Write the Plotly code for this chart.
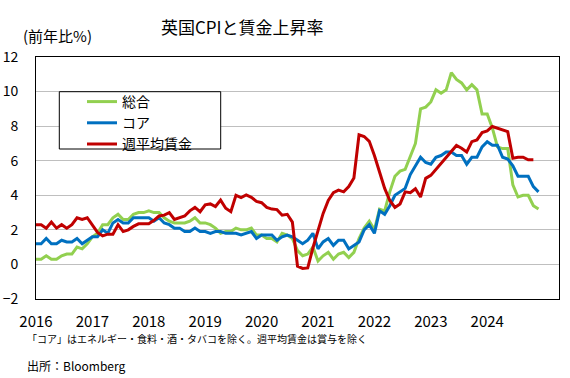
import plotly.graph_objects as go

# ---- data (monthly, Jan 2016 onward) ----
years = ["2016", "2017", "2018", "2019", "2020", "2021", "2022", "2023", "2024"]

cpi = [0.3, 0.3, 0.5, 0.3, 0.3, 0.5, 0.6, 0.6, 1.0, 0.9, 1.2, 1.6,
       1.8, 2.3, 2.3, 2.7, 2.9, 2.6, 2.6, 2.9, 3.0, 3.0, 3.1, 3.0,
       3.0, 2.7, 2.5, 2.4, 2.4, 2.4, 2.5, 2.7, 2.4, 2.4, 2.3, 2.1,
       1.8, 1.9, 1.9, 2.1, 2.0, 2.0, 2.1, 1.7, 1.7, 1.5, 1.5, 1.3,
       1.8, 1.7, 1.5, 0.8, 0.5, 0.6, 1.0, 0.2, 0.5, 0.7, 0.3, 0.6,
       0.7, 0.4, 0.7, 1.5, 2.1, 2.5, 2.0, 3.2, 3.1, 4.2, 5.1, 5.4,
       5.5, 6.2, 7.0, 9.0, 9.1, 9.4, 10.1, 9.9, 10.1, 11.1, 10.7, 10.5,
       10.1, 10.4, 10.1, 8.7, 8.7, 7.9, 6.8, 6.7, 6.7, 4.6, 3.9, 4.0,
       4.0, 3.4, 3.2]

core = [1.2, 1.2, 1.5, 1.2, 1.2, 1.4, 1.3, 1.3, 1.5, 1.2, 1.4, 1.6,
        1.6, 2.0, 1.8, 2.4, 2.6, 2.4, 2.4, 2.7, 2.7, 2.7, 2.7, 2.5,
        2.7, 2.4, 2.3, 2.1, 2.1, 1.9, 1.9, 2.1, 1.9, 1.9, 1.8, 1.9,
        1.9, 1.8, 1.8, 1.8, 1.7, 1.8, 1.9, 1.5, 1.7, 1.7, 1.7, 1.4,
        1.6, 1.7, 1.6, 1.4, 1.2, 1.4, 1.8, 0.9, 1.3, 1.5, 1.1, 1.4,
        1.4, 0.9, 1.1, 1.3, 2.0, 2.3, 1.8, 3.1, 2.9, 3.4, 4.0, 4.2,
        4.4, 5.2, 5.7, 6.2, 5.9, 5.8, 6.2, 6.3, 6.5, 6.5, 6.3, 6.3,
        5.8, 6.2, 6.2, 6.8, 7.1, 6.9, 6.9, 6.2, 6.1, 5.7, 5.1, 5.1,
        5.1, 4.5, 4.2]

wage = [2.3, 2.3, 2.1, 2.45, 2.1, 2.3, 2.1, 2.3, 2.7, 2.6, 2.7, 2.3,
        1.85, 1.65, 1.75, 1.75, 2.3, 1.9, 2.0, 2.2, 2.35, 2.35, 2.35, 2.55,
        2.8, 2.85, 3.0, 2.6, 2.7, 2.8, 3.1, 3.3, 3.05, 3.45, 3.5, 3.35,
        3.72, 3.25, 3.05, 4.0, 3.87, 4.02, 3.88, 3.65, 3.57, 3.3, 3.2, 3.17,
        2.85, 2.9, 2.45, -0.1, -0.23, -0.2, 0.95, 2.0, 2.95, 3.7, 4.15, 4.3,
        4.2, 4.5, 5.0, 7.5, 7.4, 7.12, 6.3, 5.35, 4.4, 3.7, 3.3, 3.5,
        4.2, 4.15, 4.38, 3.9, 4.98, 5.15, 5.5, 5.85, 6.14, 6.55, 6.88, 6.72,
        6.5, 7.1, 7.2, 7.63, 7.72, 7.98, 7.88, 7.8, 7.68, 6.14, 6.2, 6.2,
        6.05, 6.05]

names = ["総合", "コア", "週平均賃金"]
colors = ["#92D050", "#0070C0", "#C00000"]

# ---- geometry helpers ----
W, H = 570, 378
ML, MR, MT, MB = 36, 11, 57, 79
PW, PH = W - ML - MR, H - MT - MB
XR = [0.0, 102.0]
YR = [-2, 12]


def px_x(p):
    return (p - ML) / PW


def px_y(p):
    return (H - MB - p) / PH


year_ticks = [12 * (i + 1) for i in range(len(years) - 1)]
label_pos = [11 * i for i in range(len(years))]
FONT = "Noto Sans CJK JP, Noto Sans, sans-serif"

fig = go.Figure()
for vals, nm, col in zip([cpi, core, wage], names, colors):
    fig.add_trace(go.Scatter(
        x=list(range(len(vals))), y=vals, name=nm, mode="lines",
        line=dict(color=col, width=3), hoverinfo="skip"))

zero_pos = (0 - YR[0]) / (YR[1] - YR[0])

fig.update_layout(
    width=W, height=H,
    margin=dict(l=ML, r=MR, t=MT, b=MB, autoexpand=False),
    paper_bgcolor="white", plot_bgcolor="white",
    font=dict(family=FONT, color="black"),
    showlegend=True,
    legend=dict(x=px_x(82), y=px_y(86), xanchor="left", yanchor="top",
                bgcolor="rgba(0,0,0,0)", borderwidth=0,
                font=dict(size=14, family=FONT)),
    xaxis=dict(range=XR, tickvals=label_pos, ticktext=years, ticks="",
               showgrid=False, zeroline=False, showline=True,
               linecolor="black", linewidth=1, mirror=True, automargin=False,
               tickfont=dict(size=15), ticklabelstandoff=9),
    xaxis2=dict(overlaying="x", anchor="free", position=zero_pos, range=XR,
                tickvals=year_ticks, ticks="outside", ticklen=6,
                tickcolor="black", tickwidth=1, showticklabels=False,
                showgrid=False, zeroline=False, showline=True, automargin=False,
                linecolor="black", linewidth=1, layer="below traces"),
    xaxis3=dict(overlaying="x", anchor="free", position=zero_pos, range=XR,
                tickvals=year_ticks, ticks="inside", ticklen=5,
                tickcolor="black", tickwidth=1, showticklabels=False,
                showgrid=False, zeroline=False, showline=False, automargin=False,
                layer="below traces"),
    yaxis=dict(range=YR, dtick=2, tick0=0, showgrid=True,
               gridcolor="#BFBFBF", gridwidth=1, zeroline=False,
               showline=True, linecolor="black", linewidth=1, mirror=True,
               automargin=False,
               ticks="", tickfont=dict(size=14), ticklabelstandoff=14),
    shapes=[dict(type="rect", xref="paper", yref="paper",
                 x0=px_x(59.3), x1=px_x(220.7), y0=px_y(149), y1=px_y(91.7),
                 line=dict(color="black", width=1), fillcolor="white",
                 layer="above")],
    annotations=[
        dict(text="英国CPIと賃金上昇率", xref="paper", yref="paper",
             x=px_x(242), y=px_y(27), xanchor="center", yanchor="middle",
             showarrow=False, font=dict(size=17)),
        dict(text="(前年比%)", xref="paper", yref="paper",
             x=px_x(57.5), y=px_y(36), xanchor="center", yanchor="middle",
             showarrow=False, font=dict(size=15)),
        dict(text="「コア」はエネルギー・食料・酒・タバコを除く。週平均賃金は賞与を除く",
             xref="paper", yref="paper", x=px_x(25), y=px_y(338),
             xanchor="left", yanchor="middle", showarrow=False,
             font=dict(size=10)),
        dict(text="出所：Bloomberg", xref="paper", yref="paper",
             x=px_x(25), y=px_y(365), xanchor="left", yanchor="middle",
             showarrow=False, font=dict(size=12)),
    ],
)

fig.write_html("out.html",
               config={"displayModeBar": False},
               post_script="document.body.style.margin='0';"
                           "document.body.style.overflow='hidden';")
